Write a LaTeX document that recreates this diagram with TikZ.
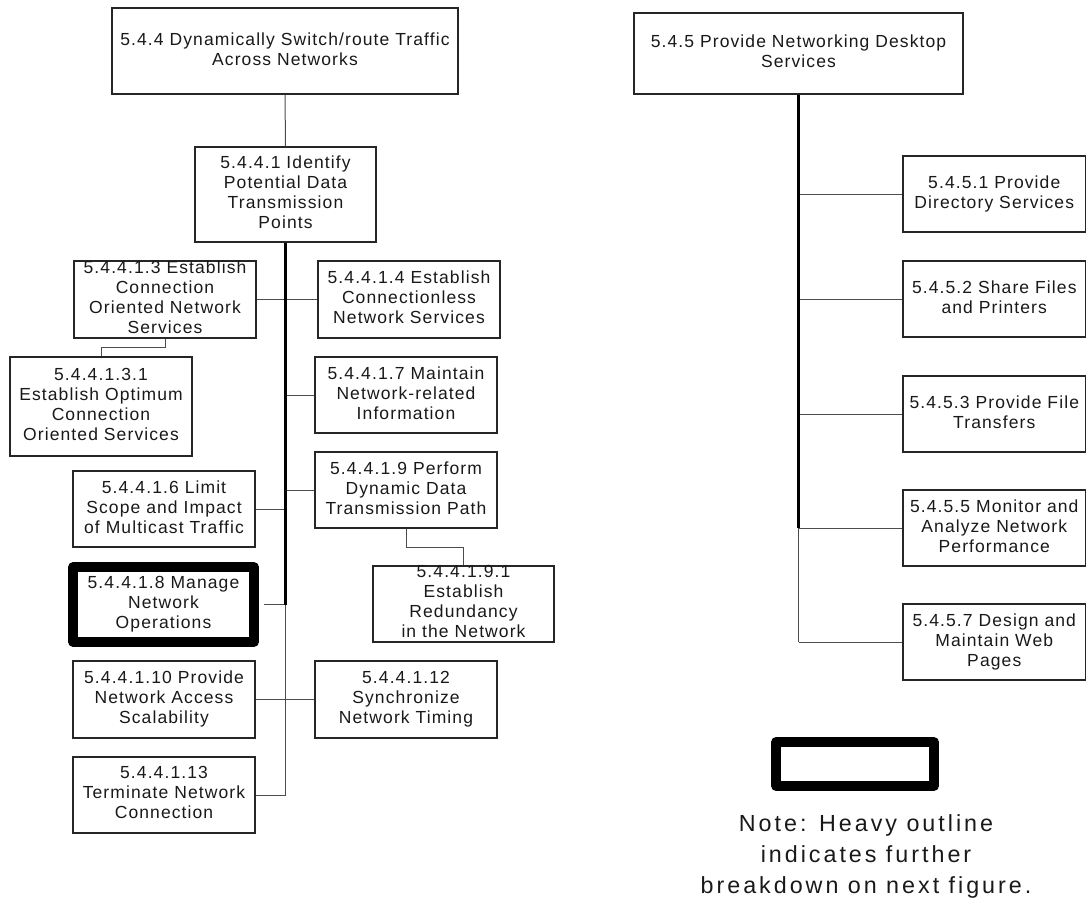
\documentclass[tikz,border=0pt]{standalone}
\usepackage{fontspec}
\newfontfamily\boxfont{Liberation Sans}[LetterSpace=6.3]
\newfontfamily\notefont{Liberation Sans}[LetterSpace=12.8]
\begin{document}
\begin{tikzpicture}[x=1pt,y=-1pt,
  box/.style={draw=black!85, line width=1.2pt, fill=white, inner sep=0pt, rectangle},
  heavybox/.style={draw=black, line width=9.5pt, line join=round, fill=white, inner sep=0pt, rectangle},
  lbl/.style={align=center, inner sep=0pt, text=black!90,
    font=\boxfont\fontsize{17.5pt}{20pt}\selectfont,
    execute at begin node={\rule{0pt}{17pt}},
    execute at end node={\rule[-4.4pt]{0pt}{0pt}}},
  notelbl/.style={align=center, inner sep=0pt, text=black!90,
    font=\notefont\fontsize{23.3pt}{31pt}\selectfont,
    execute at begin node={\rule{0pt}{22pt}},
    execute at end node={\rule[-5.3pt]{0pt}{0pt}}},
  conn/.style={draw=black!70, line width=1pt},
  trunk/.style={draw=black, line width=2.4pt}
]
\useasboundingbox (0,0) rectangle (1086,902);

% ---------------- 5.4.4 branch ----------------
\node[box, minimum width=346pt, minimum height=86pt] (A) at (285,51) {};
\node[lbl] (At) at (A) {5.4.4 Dynamically Switch/route Traffic\\Across Networks};

\node[box, minimum width=181pt, minimum height=95pt] (B) at (285.5,194.5) {};
\node[lbl] (Bt) at (B) {5.4.4.1 Identify\\Potential Data\\Transmission\\Points};

\node[box, minimum width=182pt, minimum height=77pt] (C3) at (165,299.5) {};
\node[box, minimum width=182pt, minimum height=77pt] (C4) at (409,299.5) {};
\node[box, minimum width=182pt, minimum height=99pt] (C31) at (101,406.5) {};
\node[box, minimum width=182pt, minimum height=76pt] (C7) at (406,395) {};
\node[box, minimum width=182pt, minimum height=76pt] (C9) at (406,490) {};
\node[box, minimum width=182pt, minimum height=76pt] (C6) at (164,509) {};
\node[box, minimum width=181pt, minimum height=76pt] (C91) at (463.5,604) {};
\node[heavybox, minimum width=181pt, minimum height=75pt] (C8) at (163.5,604.5) {};
\node[box, minimum width=182pt, minimum height=77pt] (C10) at (164,699.5) {};
\node[box, minimum width=182pt, minimum height=77pt] (C12) at (406,699.5) {};
\node[box, minimum width=182pt, minimum height=76pt] (C13) at (164,795) {};

\node[lbl] (C3t) at (C3) {5.4.4.1.3 Establish\\Connection\\Oriented Network\\Services};
\node[lbl] (C4t) at (C4) {5.4.4.1.4 Establish\\Connectionless\\Network Services};
\node[lbl] (C31t) at (C31) {5.4.4.1.3.1\\Establish Optimum\\Connection\\Oriented Services};
\node[lbl] (C7t) at (C7) {5.4.4.1.7 Maintain\\Network-related\\Information};
\node[lbl] (C9t) at (C9) {5.4.4.1.9 Perform\\Dynamic Data\\Transmission Path};
\node[lbl] (C6t) at (C6) {5.4.4.1.6 Limit\\Scope and Impact\\of Multicast Traffic};
\node[lbl] (C91t) at (C91) {5.4.4.1.9.1\\Establish\\Redundancy\\in the Network};
\node[lbl] (C8t) at (C8) {5.4.4.1.8 Manage\\Network\\Operations};
\node[lbl] (C10t) at (C10) {5.4.4.1.10 Provide\\Network Access\\Scalability};
\node[lbl] (C12t) at (C12) {5.4.4.1.12\\Synchronize\\Network Timing};
\node[lbl] (C13t) at (C13) {5.4.4.1.13\\Terminate Network\\Connection};

% connectors of the 5.4.4 branch
\coordinate (Tmid) at (B.south |- C8.east);
\coordinate (Tend) at (B.south |- C13.east);
\draw[conn] (A.south) -- (B.north);
\draw[conn] (C3.east) -- (C4.west);
\draw[conn] (C7.west) -- (C7.west -| B.south);
\draw[conn] (C9.west) -- (C9.west -| B.south);
\draw[conn] (C6.east) -- (C6.east -| B.south);
\draw[conn] (C8.east) ++(4.75,0) -- (Tmid);
\draw[conn] (C10.east) -- (C12.west);
\draw[conn] (C13.east) -- (Tend);
\draw[conn] (Tmid) -- (Tend);
\draw[trunk] (B.south) -- (Tmid);
\draw[conn] (C3.south) -- ++(0,9) -| (C31.north);
\draw[conn] (C9.south) -- ++(0,19) -| (C91.north);

% ---------------- 5.4.5 branch ----------------
\node[box, minimum width=329pt, minimum height=81pt] (R) at (798.5,53.5) {};
\node[lbl] (Rt) at (R) {5.4.5 Provide Networking Desktop\\Services};

\node[box, minimum width=182.5pt, minimum height=76pt] (R1) at (994.25,194) {};
\node[box, minimum width=182.5pt, minimum height=76pt] (R2) at (994.25,299) {};
\node[box, minimum width=182.5pt, minimum height=76pt] (R3) at (994.25,414) {};
\node[box, minimum width=182.5pt, minimum height=76pt] (R5) at (994.25,528) {};
\node[box, minimum width=182.5pt, minimum height=76pt] (R7) at (994.25,642) {};

\node[lbl] (R1t) at (R1) {5.4.5.1 Provide\\Directory Services};
\node[lbl] (R2t) at (R2) {5.4.5.2 Share Files\\and Printers};
\node[lbl] (R3t) at (R3) {5.4.5.3 Provide File\\Transfers};
\node[lbl] (R5t) at (R5) {5.4.5.5 Monitor and\\Analyze Network\\Performance};
\node[lbl] (R7t) at (R7) {5.4.5.7 Design and\\Maintain Web\\Pages};

\coordinate (Rmid) at (R.south |- R5.west);
\coordinate (Rend) at (R.south |- R7.west);
\draw[conn] (R1.west) -- (R1.west -| R.south);
\draw[conn] (R2.west) -- (R2.west -| R.south);
\draw[conn] (R3.west) -- (R3.west -| R.south);
\draw[conn] (R5.west) -- (Rmid);
\draw[conn] (R7.west) -- (Rend);
\draw[conn] (Rmid) -- (Rend);
\draw[trunk] (R.south) -- (Rmid);

% ---------------- legend ----------------
\node[heavybox, minimum width=158pt, minimum height=44pt] (K) at (855,764) {};
\node[notelbl] (Kt) at (866,857) {Note: Heavy outline\\indicates further\\breakdown on next figure.};
\end{tikzpicture}
\end{document}
